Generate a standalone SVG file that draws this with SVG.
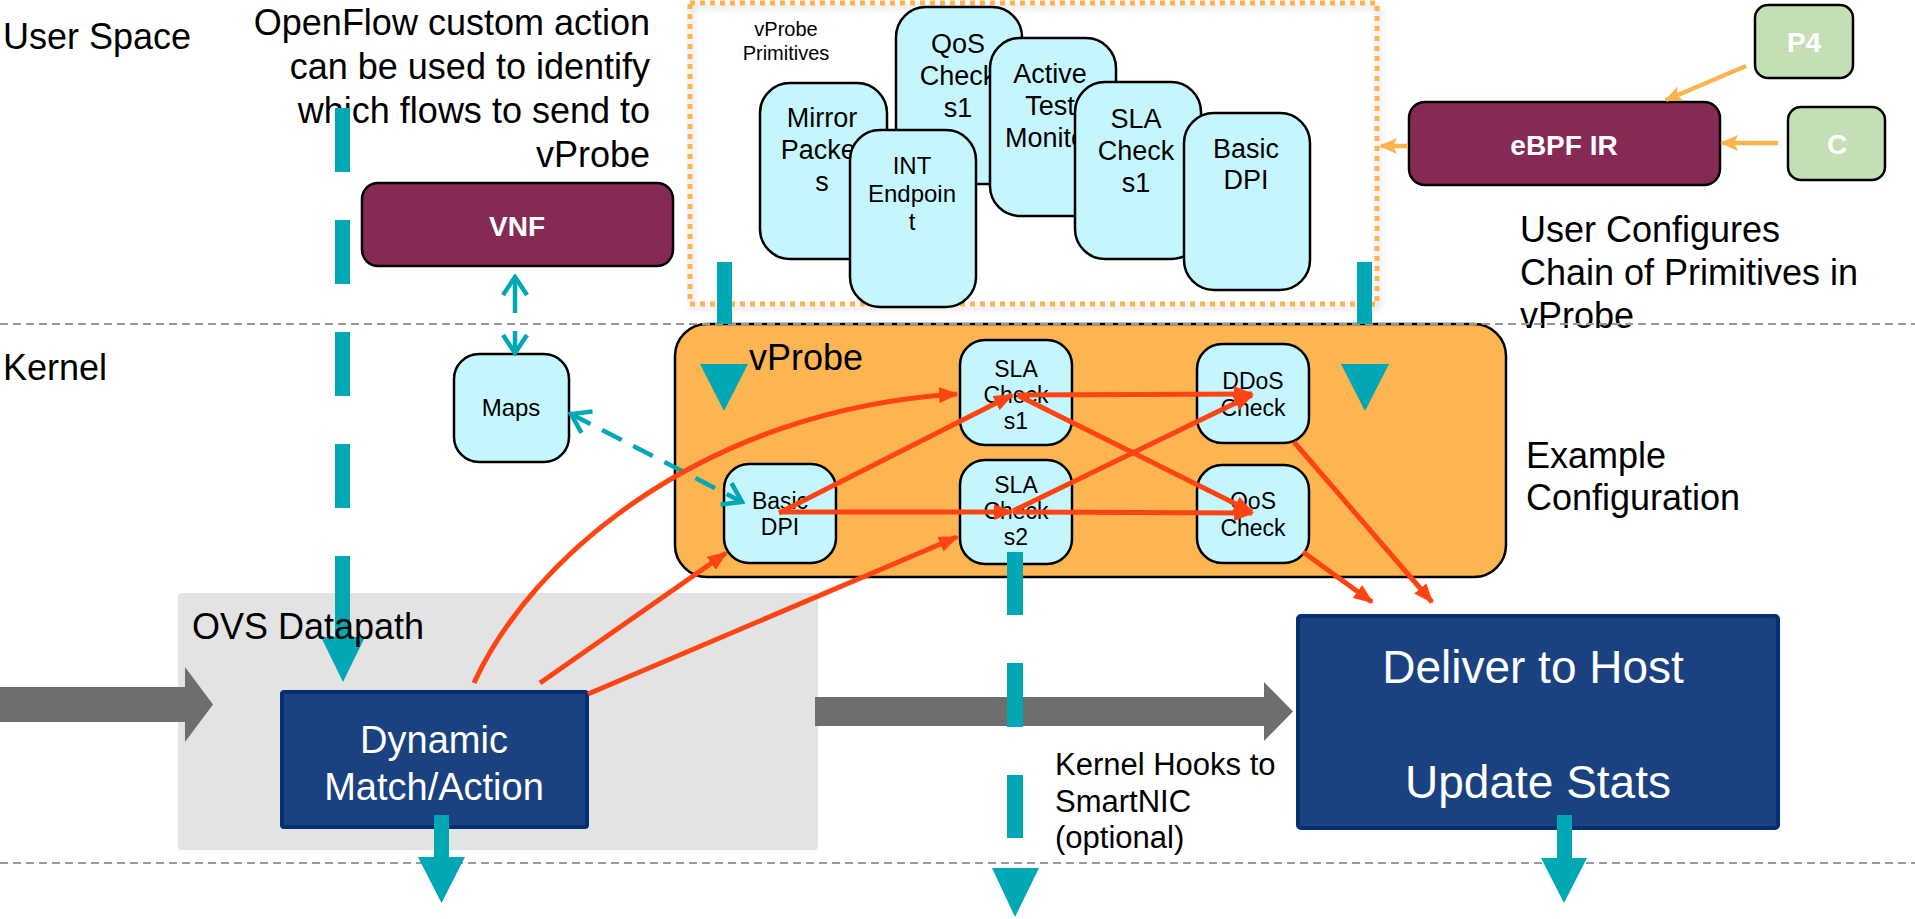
<svg xmlns="http://www.w3.org/2000/svg" width="1915" height="919" viewBox="0 0 1915 919">
<style>
text { font-family: "Liberation Sans", Arial, sans-serif; fill: #000; }
.big { font-size: 36px; }
.card { fill: #C6F6FD; stroke: #000; stroke-width: 2.5; }
.cardtxt { font-size: 27px; text-anchor: middle; }
.nodetxt { font-size: 23px; text-anchor: middle; }
.maroon { fill: #862A55; stroke: #000; stroke-width: 2.5; }
.green { fill: #C4DFB6; stroke: #000; stroke-width: 2.5; }
.wbold { fill: #fff; font-weight: bold; font-size: 28px; text-anchor: middle; }
.blue { fill: #1B4280; stroke: #052F6F; stroke-width: 4; }
.wtxt { fill: #fff; text-anchor: middle; }
.teal { fill: #00A7B5; }
.sep { stroke: #999; stroke-width: 2; stroke-dasharray: 8 5; fill: none; }
.red { stroke: #FF4413; stroke-width: 5; fill: none; marker-end: url(#redhead); }
.orng { stroke: #FBB450; stroke-width: 4.5; fill: none; marker-end: url(#orhead); }
.tdash { stroke: #00A7B5; stroke-width: 4.5; fill: none; }
.gray { fill: #6E6E6E; }
</style>
<defs>
<marker id="redhead" markerUnits="userSpaceOnUse" markerWidth="20" markerHeight="16" viewBox="0 0 20 16" refX="18" refY="8" orient="auto">
<path d="M0,0 L20,8 L0,16 Z" fill="#FF4413"/>
</marker>
<marker id="orhead" markerUnits="userSpaceOnUse" markerWidth="18" markerHeight="16" viewBox="0 0 18 16" refX="16" refY="8" orient="auto">
<path d="M0,0 L18,8 L0,16 L4,8 Z" fill="#FBB450"/>
</marker>
<marker id="chev" markerUnits="userSpaceOnUse" markerWidth="24" markerHeight="28" viewBox="0 0 24 28" refX="21" refY="14" orient="auto-start-reverse">
<path d="M3,2 L21,14 L3,26" fill="none" stroke="#00A7B5" stroke-width="4.5"/>
</marker>
<filter id="shadow" x="-5%" y="-5%" width="110%" height="115%">
<feDropShadow dx="2" dy="4" stdDeviation="3" flood-color="#000" flood-opacity="0.18"/>
</filter>
</defs>

<rect width="1915" height="919" fill="#fff"/>

<!-- OVS Datapath background -->
<g id="ovs-datapath">
<rect x="178" y="593" width="640" height="257" rx="4" fill="#E3E3E3"/>
</g>

<!-- Labels -->
<g id="labels">
<text class="big" x="3" y="49">User Space</text>
<text class="big" x="3" y="380">Kernel</text>
<text class="big" x="650" text-anchor="end" y="35">OpenFlow custom action</text>
<text class="big" x="650" text-anchor="end" y="79">can be used to identify</text>
<text class="big" x="650" text-anchor="end" y="123">which flows to send to</text>
<text class="big" x="650" text-anchor="end" y="167">vProbe</text>
<text class="big" x="1520" y="242">User Configures</text>
<text class="big" x="1520" y="285">Chain of Primitives in</text>
<text class="big" x="1520" y="328">vProbe</text>
<text class="big" x="1526" y="468">Example</text>
<text class="big" x="1526" y="510">Configuration</text>
<text x="1055" y="775" font-size="31">Kernel Hooks to</text>
<text x="1055" y="812" font-size="31">SmartNIC</text>
<text x="1055" y="848" font-size="31">(optional)</text>
</g>

<!-- vProbe Primitives -->
<g id="primitives-frame">
<rect x="690" y="3" width="687" height="301" fill="none" stroke="#FBB450" stroke-width="5" stroke-dasharray="5 5" filter="url(#shadow)"/>
<text x="786" y="36" font-size="20" text-anchor="middle">vProbe</text>
<text x="786" y="60" font-size="20" text-anchor="middle">Primitives</text>
</g>
<g id="prim-mirror">
<rect class="card" x="760" y="83" width="127" height="176" rx="30"/>
<text class="cardtxt" x="822" y="127">Mirror</text>
<text class="cardtxt" x="822" y="159">Packet</text>
<text class="cardtxt" x="822" y="191">s</text>
</g>
<g id="prim-qos">
<rect class="card" x="896" y="7" width="126" height="177" rx="30"/>
<text class="cardtxt" x="958" y="53">QoS</text>
<text class="cardtxt" x="958" y="85">Check</text>
<text class="cardtxt" x="958" y="117">s1</text>
</g>
<g id="prim-int">
<rect class="card" x="850" y="130" width="126" height="177" rx="30"/>
<text class="cardtxt" x="912" y="174" style="font-size:24px">INT</text>
<text class="cardtxt" x="912" y="202" style="font-size:24px">Endpoin</text>
<text class="cardtxt" x="912" y="230" style="font-size:24px">t</text>
</g>
<g id="prim-active">
<rect class="card" x="990" y="38" width="126" height="178" rx="30"/>
<text class="cardtxt" x="1050" y="83">Active</text>
<text class="cardtxt" x="1050" y="115">Test</text>
<text class="cardtxt" x="1050" y="147">Monitor</text>
</g>
<g id="prim-sla">
<rect class="card" x="1075" y="82" width="126" height="177" rx="30"/>
<text class="cardtxt" x="1136" y="128">SLA</text>
<text class="cardtxt" x="1136" y="160">Check</text>
<text class="cardtxt" x="1136" y="192">s1</text>
</g>
<g id="prim-basic">
<rect class="card" x="1184" y="113" width="126" height="177" rx="30"/>
<text class="cardtxt" x="1246" y="158">Basic</text>
<text class="cardtxt" x="1246" y="189">DPI</text>
</g>

<!-- User space boxes -->
<g id="vnf">
<rect class="maroon" x="362" y="183" width="311" height="83" rx="16"/>
<text class="wbold" x="517" y="236">VNF</text>
</g>
<g id="ebpf-ir">
<rect class="maroon" x="1409" y="102" width="311" height="83" rx="16"/>
<text class="wbold" x="1564" y="155">eBPF IR</text>
</g>
<g id="p4">
<rect class="green" x="1755" y="5" width="98" height="73" rx="13"/>
<text class="wbold" x="1804" y="52">P4</text>
</g>
<g id="c">
<rect class="green" x="1788" y="107" width="97" height="73" rx="13"/>
<text class="wbold" x="1837" y="154">C</text>
</g>

<!-- vProbe -->
<g id="vprobe">
<rect x="675" y="324" width="831" height="253" rx="32" fill="#FCB551" stroke="#000" stroke-width="2.5"/>
<text class="big" x="749" y="370">vProbe</text>
</g>
<g id="basic-dpi">
<rect class="card" x="724" y="464" width="112" height="99" rx="25"/>
<text class="nodetxt" x="780" y="509">Basic</text>
<text class="nodetxt" x="780" y="535">DPI</text>
</g>
<g id="sla-check-s1">
<rect class="card" x="960" y="340" width="112" height="105" rx="25"/>
<text class="nodetxt" x="1016" y="377">SLA</text>
<text class="nodetxt" x="1016" y="403">Check</text>
<text class="nodetxt" x="1016" y="429">s1</text>
</g>
<g id="sla-check-s2">
<rect class="card" x="960" y="460" width="112" height="104" rx="25"/>
<text class="nodetxt" x="1016" y="493">SLA</text>
<text class="nodetxt" x="1016" y="519">Check</text>
<text class="nodetxt" x="1016" y="545">s2</text>
</g>
<g id="ddos-check">
<rect class="card" x="1197" y="344" width="112" height="99" rx="25"/>
<text class="nodetxt" x="1253" y="389">DDoS</text>
<text class="nodetxt" x="1253" y="416">Check</text>
</g>
<g id="qos-check">
<rect class="card" x="1197" y="465" width="112" height="98" rx="25"/>
<text class="nodetxt" x="1253" y="509">QoS</text>
<text class="nodetxt" x="1253" y="536">Check</text>
</g>
<g id="maps">
<rect class="card" x="454" y="354" width="115" height="108" rx="25"/>
<text x="511" y="416" font-size="24" text-anchor="middle">Maps</text>
</g>

<!-- Datapath boxes -->
<g id="dynamic-match-action">
<rect class="blue" x="282" y="692" width="305" height="135" rx="2"/>
<text class="wtxt" x="434" y="753" font-size="38">Dynamic</text>
<text class="wtxt" x="434" y="800" font-size="38">Match/Action</text>
</g>
<g id="deliver-to-host">
<rect class="blue" x="1298" y="616" width="480" height="212" rx="3"/>
<text class="wtxt" x="1533" y="683" font-size="46">Deliver to Host</text>
<text class="wtxt" x="1538" y="798" font-size="46">Update Stats</text>
</g>

<!-- Separators -->
<g id="separators">
<line class="sep" x1="0" y1="324" x2="1915" y2="324"/>
<line class="sep" x1="0" y1="863" x2="1915" y2="863"/>
</g>

<!-- Connectors -->
<g id="connectors">
<!-- gray packet-flow arrows -->
<polygon class="gray" points="0,687 185,687 185,667 213,704.5 185,742 185,722 0,722"/>
<polygon class="gray" points="815,697 1264,697 1264,682 1293,711.5 1264,741 1264,726 815,726"/>

<!-- teal dashed OpenFlow line -->
<rect class="teal" x="335" y="108" width="15" height="64"/>
<rect class="teal" x="335" y="220" width="15" height="64"/>
<rect class="teal" x="335" y="332" width="15" height="64"/>
<rect class="teal" x="335" y="444" width="15" height="64"/>
<rect class="teal" x="335" y="556" width="15" height="82"/>
<polygon class="teal" points="321,637 365,637 343,682"/>

<!-- teal dashed SmartNIC line -->
<rect class="teal" x="1007" y="552" width="16" height="63"/>
<rect class="teal" x="1007" y="663" width="16" height="64"/>
<rect class="teal" x="1007" y="775" width="16" height="63"/>
<polygon class="teal" points="992,868 1039,868 1015,917"/>

<!-- teal bars into vProbe -->
<rect class="teal" x="717" y="262" width="15" height="62"/>
<polygon class="teal" points="700,364 748,364 724,411"/>
<rect class="teal" x="1357" y="262" width="15" height="62"/>
<polygon class="teal" points="1341,364 1389,364 1365,411"/>

<!-- teal down arrows -->
<rect class="teal" x="434" y="815" width="15" height="43"/>
<polygon class="teal" points="418,857 465,857 441.5,903"/>
<rect class="teal" x="1557" y="815" width="15" height="44"/>
<polygon class="teal" points="1541,858 1587,858 1564,903"/>

<!-- teal dashed double arrows -->
<line class="tdash" x1="515" y1="313" x2="515" y2="277" marker-end="url(#chev)"/>
<line class="tdash" x1="515" y1="331" x2="515" y2="353" marker-end="url(#chev)"/>
<line class="tdash" x1="571" y1="414" x2="742" y2="502" stroke-dasharray="22 13" marker-start="url(#chev)" marker-end="url(#chev)"/>

<!-- orange language arrows -->
<line class="orng" x1="1746" y1="66" x2="1666" y2="100"/>
<line class="orng" x1="1778" y1="143" x2="1722" y2="143"/>
<line class="orng" x1="1408" y1="146" x2="1381" y2="146"/>

<!-- red chain arrows -->
<path class="red" d="M474,683 C530,560 700,410 957,394"/>
<line class="red" x1="540" y1="683" x2="726" y2="553"/>
<line class="red" x1="588" y1="694" x2="957" y2="537"/>
<line class="red" x1="779" y1="513" x2="1012" y2="395"/>
<line class="red" x1="779" y1="512" x2="1012" y2="512"/>
<line class="red" x1="1017" y1="395" x2="1252" y2="394"/>
<line class="red" x1="1019" y1="396" x2="1252" y2="512"/>
<line class="red" x1="1013" y1="511" x2="1252" y2="395"/>
<line class="red" x1="1013" y1="512" x2="1252" y2="513"/>
<line class="red" x1="1294" y1="442" x2="1432" y2="602"/>
<line class="red" x1="1303" y1="552" x2="1372" y2="602"/>
</g>

<!-- OVS Datapath label drawn above the teal arrow -->
<g id="ovs-datapath-label">
<text class="big" x="192" y="639">OVS Datapath</text>
</g>
</svg>
